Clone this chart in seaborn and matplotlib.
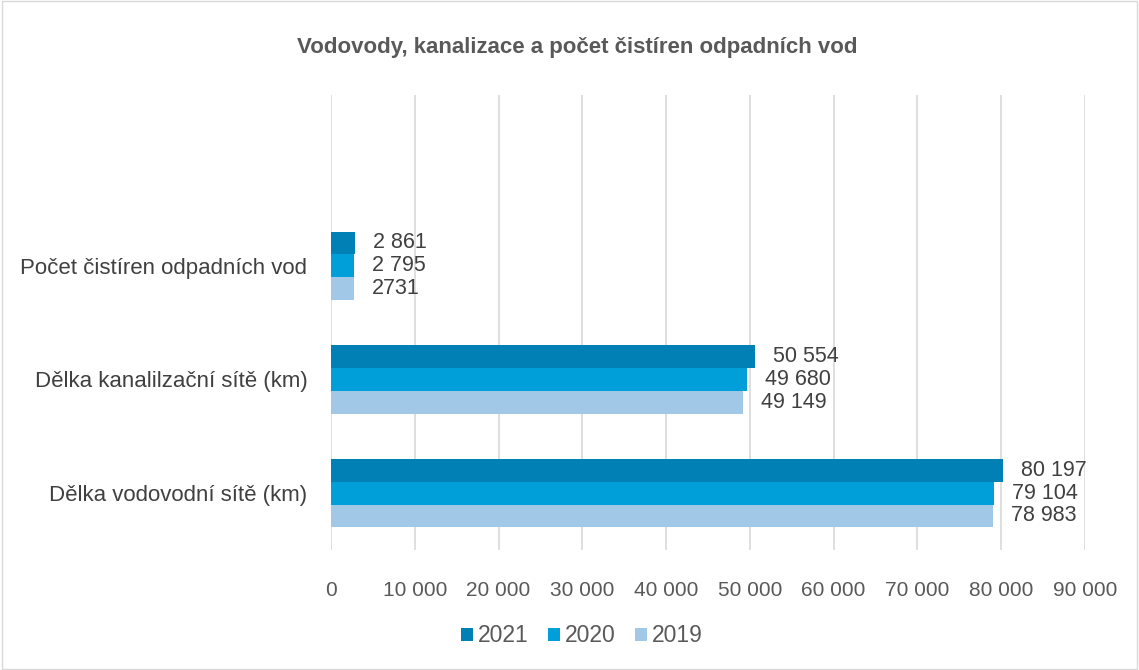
import pandas as pd
import matplotlib.pyplot as plt
import matplotlib.patches as mpatches
import seaborn as sns

# Chart data
categories = ["Počet čistíren odpadních vod", "Dělka kanalilzační sítě (km)", "Dělka vodovodní sítě (km)"]
years = ["2021", "2020", "2019"]
values_2021 = [2861, 50554, 80197]
values_2020 = [2795, 49680, 79104]
values_2019 = [2731, 49149, 78983]
labels_2021 = ["2 861", "50 554", "80 197"]
labels_2020 = ["2 795", "49 680", "79 104"]
labels_2019 = ["2731", "49 149", "78 983"]
x_ticks = [0, 10000, 20000, 30000, 40000, 50000, 60000, 70000, 80000, 90000]
x_tick_labels = ["0", "10 000", "20 000", "30 000", "40 000", "50 000", "60 000", "70 000", "80 000", "90 000"]

colors = {"2021": "#0080B4", "2020": "#009FDA", "2019": "#A2C8E8"}

df = pd.DataFrame({
    "kategorie": categories * 3,
    "rok": ["2021"] * 3 + ["2020"] * 3 + ["2019"] * 3,
    "hodnota": values_2021 + values_2020 + values_2019,
    "popisek": labels_2021 + labels_2020 + labels_2019,
})

sns.set_theme(style="white")
plt.rcParams["font.family"] = ["Liberation Sans", "DejaVu Sans"]

fig = plt.figure(figsize=(11.39, 6.70), dpi=100)
ax = fig.add_axes([0.2906, 0.179, 0.662, 0.679])

sns.barplot(data=df, x="hodnota", y="kategorie", hue="rok", order=categories,
            hue_order=years, palette=colors, saturation=1, orient="h", width=0.6,
            ax=ax, legend=True, linewidth=0)

# value labels
for container, yr in zip(ax.containers, years):
    labs = df[df["rok"] == yr]["popisek"].tolist()
    ax.bar_label(container, labels=labs, padding=13, fontsize=15.5, color="#404040")

ax.set_xlim(0, 90000)
ax.set_ylim(2.5, -1.5)
ax.set_xticks(x_ticks)
ax.set_xticklabels(x_tick_labels, fontsize=15, color="#595959")
ax.tick_params(axis="x", length=0, pad=22)
ax.tick_params(axis="y", length=0, pad=17, labelsize=16, labelcolor="#404040")
ax.xaxis.grid(True, color="#D9D9D9", linewidth=1.2)
ax.yaxis.grid(False)
ax.set_axisbelow(True)
for s in ax.spines.values():
    s.set_visible(False)
ax.set_xlabel("")
ax.set_ylabel("")

handles, lbls = ax.get_legend_handles_labels()
ax.get_legend().remove()
fig.legend(handles, lbls, loc="center", bbox_to_anchor=(0.511, 0.051), ncol=3,
           frameon=False, fontsize=16.5, handlelength=0.52, handleheight=0.52,
           handletextpad=0.22, columnspacing=0.85, labelcolor="#595959")

fig.text(0.507, 0.929, "Vodovody, kanalizace a počet čistíren odpadních vod",
         ha="center", va="center", fontsize=16, fontweight="bold", color="#595959")

fig.patches.append(mpatches.Rectangle((0.002, 0.002), 0.996, 0.996, transform=fig.transFigure,
                                      fill=False, edgecolor="#D9D9D9", linewidth=1))

fig.savefig("out.png", dpi=100)
